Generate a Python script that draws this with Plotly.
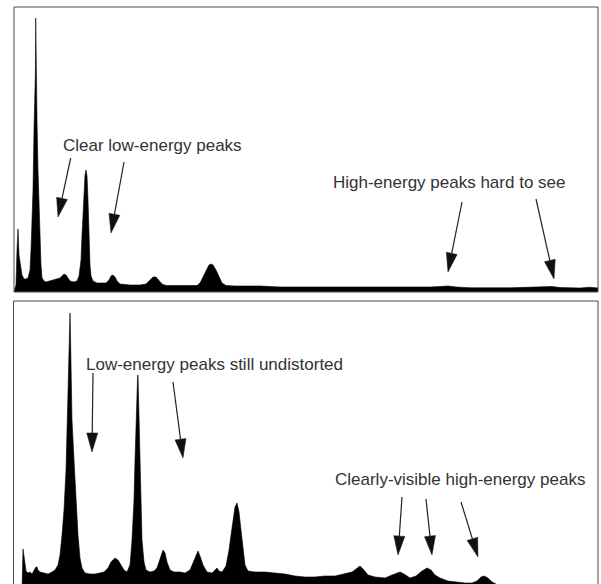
import plotly.graph_objects as go

W, H = 601, 584

# ---------------- Data (channel, counts) ----------------
top_channel = [0, 2, 3, 4, 5, 6, 7, 8, 10, 12, 14, 16, 17, 18, 19, 20, 21, 21.4, 21.7, 22.0,
               23, 24, 25, 26, 27, 28, 30, 32, 36, 41, 46, 48, 50, 52, 54, 56, 60, 63, 65, 67,
               68, 69, 70, 71, 72, 73, 74, 75, 76, 77, 79, 83, 88, 92, 95, 97, 99, 101, 103, 106,
               116, 126, 132, 136, 139, 142, 145, 148, 152, 161, 171, 176, 183, 186, 189, 192,
               195, 197, 199, 202, 205, 208, 212, 221, 246, 266, 306, 336, 386, 416, 426, 434,
               442, 456, 496, 516, 531, 538, 546, 566, 576, 584]
top_counts = [0, 70, 420, 630, 370, 300, 240, 170, 130, 130, 140, 220, 420, 720, 1020, 1620, 2120, 2200, 2740, 2200,
              1720, 1220, 820, 520, 270, 140, 110, 100, 110, 120, 140, 160, 180, 170, 140, 110, 100, 110, 160, 320,
              570, 820, 1020, 1170, 1220, 1160, 920, 520, 270, 160, 110, 90, 90, 90, 120, 160, 170, 150, 110, 80,
              70, 70, 80, 120, 150, 150, 120, 80, 65, 65, 60, 60, 65, 90, 150, 220,
              270, 280, 270, 220, 150, 90, 65, 60, 60, 50, 50, 48, 48, 50, 55, 60,
              50, 42, 42, 45, 50, 55, 45, 40, 48, 40]

bot_channel = [8, 8.5, 9, 10, 11, 12, 14, 16, 18, 20, 22, 23, 24, 26, 30, 34, 38, 41, 44, 46,
               48, 50, 52, 53, 54, 55, 55.6, 56, 56.4, 57, 58, 60, 62, 64, 66, 68, 71, 76, 81, 86,
               90, 94, 97, 101, 104, 107, 110, 113, 116, 118, 120, 121, 122, 123, 123.6, 124, 124.4, 125, 126, 127,
               128, 130, 132, 136, 140, 143, 146, 148, 149, 151, 153, 156, 160, 166, 171, 176, 180, 183, 184, 186,
               189, 193, 198, 201, 203, 205, 208, 212, 215, 217, 219, 221, 223, 225, 227, 229, 231, 234, 241, 251,
               261, 271, 281, 291, 301, 311, 321, 331, 338, 342, 346, 350, 354, 361, 371, 378, 383, 386, 390, 396,
               402, 408, 413, 417, 421, 426, 434, 441, 451, 458, 463, 467, 470, 474, 478, 482, 484, 584]
bot_counts = [0, 300, 410, 340, 250, 190, 170, 180, 160, 200, 230, 230, 200, 180, 170, 160, 180, 200, 250, 350,
              550, 800, 1200, 1600, 1900, 2400, 2600, 2770, 2600, 2100, 1700, 1300, 900, 550, 320, 220, 170, 160, 160, 170,
              180, 220, 280, 320, 300, 250, 200, 180, 250, 500, 900, 1300, 1700, 2000, 2140, 2150, 2000, 1600, 1200, 800,
              500, 280, 200, 180, 190, 220, 320, 380, 400, 370, 280, 200, 180, 180, 170, 200, 300, 380, 390, 340,
              250, 180, 170, 200, 220, 190, 180, 240, 400, 550, 700, 830, 870, 780, 600, 400, 250, 190, 180, 180,
              170, 160, 140, 130, 130, 140, 140, 160, 180, 210, 240, 200, 150, 130, 120, 150, 170, 180, 160, 120,
              140, 190, 220, 200, 150, 120, 90, 80, 70, 70, 90, 130, 140, 120, 80, 60, 20, 10]

labels = ["Clear low-energy peaks", "High-energy peaks hard to see",
          "Low-energy peaks still undistorted", "Clearly-visible high-energy peaks"]

# ---------------- Layout geometry (pixels) ----------------
def px(x):
    return x / W

def py(y):
    return 1 - y / H

fig = go.Figure()
fig.add_trace(go.Scatter(x=top_channel, y=top_counts, mode="lines", fill="tozeroy",
                         line=dict(color="black", width=0.6), fillcolor="black",
                         xaxis="x", yaxis="y", hoverinfo="skip"))
fig.add_trace(go.Scatter(x=bot_channel, y=bot_counts, mode="lines", fill="tozeroy",
                         line=dict(color="black", width=0.6), fillcolor="black",
                         xaxis="x2", yaxis="y2", hoverinfo="skip"))

ax_common = dict(showgrid=False, zeroline=False, showticklabels=False, ticks="",
                 showline=False, fixedrange=True)
fig.update_layout(
    width=W, height=H, margin=dict(l=0, r=0, t=0, b=0),
    paper_bgcolor="white", plot_bgcolor="white", showlegend=False,
    xaxis=dict(domain=[px(14), px(598)], range=[0, 584], anchor="y", **ax_common),
    yaxis=dict(domain=[py(292), py(7)], range=[0, 2850], anchor="x", **ax_common),
    xaxis2=dict(domain=[px(14), px(598)], range=[0, 584], anchor="y2", **ax_common),
    yaxis2=dict(domain=[0, py(301)], range=[60, 2890], anchor="x2", **ax_common),
)

shapes = []
border = dict(color="#4a4a4a", width=1)
# top panel box
shapes.append(dict(type="rect", xref="paper", yref="paper", x0=px(14), x1=px(598),
                   y0=py(292), y1=py(7), line=border, layer="above"))
# bottom panel box (bottom edge outside view)
for (x0, y0, x1, y1) in [(13.5, 301, 598, 301), (13.5, 301, 13.5, 584), (598, 301, 598, 584)]:
    shapes.append(dict(type="line", xref="paper", yref="paper", x0=px(x0), y0=py(y0),
                       x1=px(x1), y1=py(y1), line=border, layer="above"))

# arrows (tail -> tip), pixel coordinates
arrows = [((70.7, 158), (58, 217)), ((124, 162), (111, 233)),
          ((462, 202), (448, 272)), ((536, 199), (554, 279)),
          ((93, 373), (92, 452)), ((173, 382), (183, 458)),
          ((402, 497), (398, 555)), ((426, 499), (432, 555)), ((461, 502), (478, 557))]
HEAD_L, HEAD_W = 19, 5.5
for (tx, ty), (hx, hy) in arrows:
    dx, dy = hx - tx, hy - ty
    L = (dx * dx + dy * dy) ** 0.5
    ux, uy = dx / L, dy / L
    bx, by = hx - ux * HEAD_L, hy - uy * HEAD_L
    nx, ny = -uy, ux
    shapes.append(dict(type="line", xref="paper", yref="paper", x0=px(tx), y0=py(ty),
                       x1=px(bx), y1=py(by), line=dict(color="#222", width=1.2)))
    p1 = (bx + nx * HEAD_W, by + ny * HEAD_W)
    p2 = (bx - nx * HEAD_W, by - ny * HEAD_W)
    path = "M {:.5f},{:.5f} L {:.5f},{:.5f} L {:.5f},{:.5f} Z".format(
        px(hx), py(hy), px(p1[0]), py(p1[1]), px(p2[0]), py(p2[1]))
    shapes.append(dict(type="path", xref="paper", yref="paper", path=path,
                       fillcolor="#111", line=dict(color="#111", width=0.5)))
fig.update_layout(shapes=shapes)

label_pos = [(152, 145), (448.5, 182), (214, 364), (460, 479)]
for text, (x, y) in zip(labels, label_pos):
    fig.add_annotation(x=px(x), y=py(y), xref="paper", yref="paper", text=text,
                       showarrow=False, xanchor="center", yanchor="middle",
                       font=dict(family="Liberation Sans, Arial, sans-serif", size=17, color="#333"))

fig.write_html("out.html")
